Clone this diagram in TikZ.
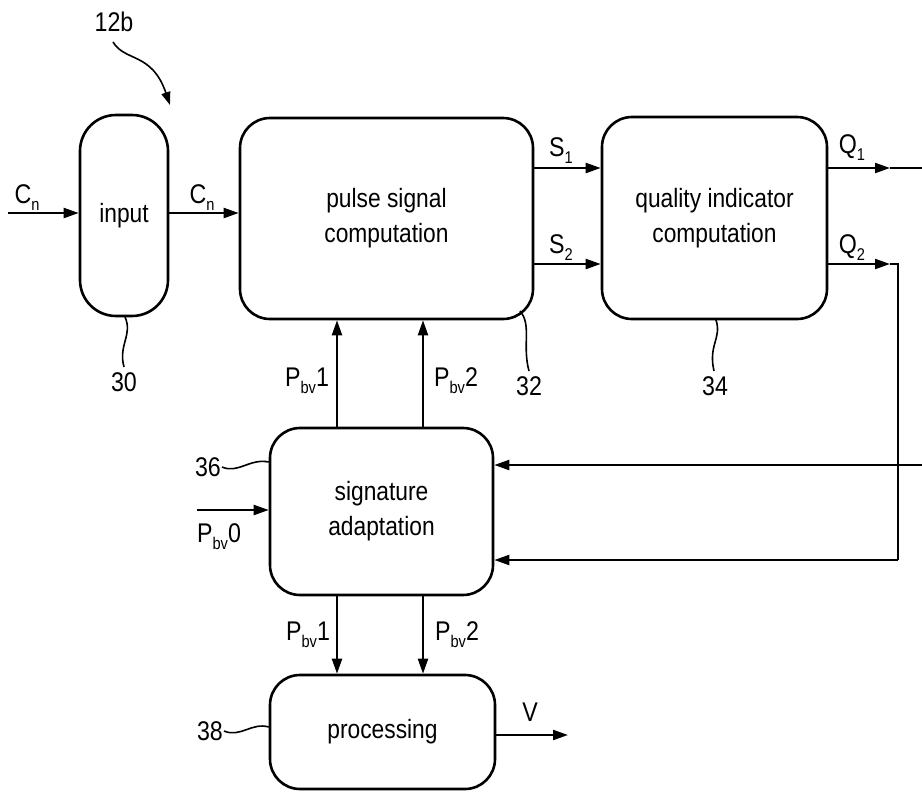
\documentclass[tikz,border=0pt]{standalone}
\usepackage{fontspec}
\setmainfont{Liberation Sans}[FakeStretch=0.86]
\usetikzlibrary{arrows.meta}
\newcommand{\lowsub}[1]{\raisebox{-0.5ex}{\fontsize{17}{17}\selectfont #1}}
\begin{document}
\begin{tikzpicture}[x=1pt,y=-1pt,
  every node/.style={font=\fontsize{26.5}{35}\selectfont},
  blk/.style={draw, line width=2.6pt, rounded corners=30pt, inner sep=0pt, align=center},
  wire/.style={line width=2.2pt},
  arr/.style={wire, -{Triangle[length=15pt,width=10pt]}},
  lead/.style={line width=1.6pt},
  lbl/.style={inner sep=0pt, font=\fontsize{27}{32}\selectfont}]
\useasboundingbox (0,0) rectangle (922,793);
% blocks
\node[blk, minimum width=88pt, minimum height=201pt, rounded corners=36pt] (input) at (124,215.5) {input};
\node[blk, minimum width=293pt, minimum height=201pt] (pulse) at (386.5,218.5) {pulse signal\\computation};
\node[blk, minimum width=225pt, minimum height=202pt] (qual) at (714.5,218) {quality indicator\\computation};
\node[blk, minimum width=223pt, minimum height=167pt] (sig) at (381.5,511.5) {signature\\adaptation};
\node[blk, minimum width=225pt, minimum height=114pt] (proc) at (382.5,732) {processing};
% free ends
\coordinate (cin) at (8,213);
\coordinate (p0) at (197,510);
\coordinate (q1a) at (890,168);
\coordinate (q1e) at (922,168);
\coordinate (q2a) at (890,264);
\coordinate (q2c) at (898,264);
\coordinate (q2d) at (898,560);
\coordinate (fbin) at (922,465);
\coordinate (vout) at (568,735);
% connectors
\draw[arr] (cin) -- (cin -| input.west);
\draw[arr] (input.east |- cin) -- (pulse.west |- cin);
\draw[arr] (pulse.east |- q1a) -- (qual.west |- q1a);
\draw[arr] (pulse.east |- q2a) -- (qual.west |- q2a);
\draw[arr] (qual.east |- q1a) -- (q1a);
\draw[wire] (q1a) -- (q1e);
\draw[arr] (qual.east |- q2a) -- (q2a);
\draw[wire] (q2a) -- (q2c) -- (q2d);
\draw[arr] (q2d) -- (sig.east |- q2d);
\draw[arr] (fbin) -- (sig.east |- fbin);
\draw[arr] (sig.north -| 337,0) -- (pulse.south -| 337,0);
\draw[arr] (sig.north -| 423,0) -- (pulse.south -| 423,0);
\draw[arr] (sig.south -| 337,0) -- (proc.north -| 337,0);
\draw[arr] (sig.south -| 423,0) -- (proc.north -| 423,0);
\draw[arr] (p0) -- (sig.west |- p0);
\draw[arr] (proc.east |- vout) -- (vout);
% labels
\node[lbl] (lcn1) at (27,198) {C\lowsub{n}};
\node[lbl] (lcn2) at (202,198) {C\lowsub{n}};
\node[lbl] (ls1) at (561,151) {S\lowsub{1}};
\node[lbl] (ls2) at (561,248) {S\lowsub{2}};
\node[lbl] (lq1) at (852,148) {Q\lowsub{1}};
\node[lbl] (lq2) at (852,248) {Q\lowsub{2}};
\node[lbl] (lpa) at (307,381) {P\lowsub{bv}1};
\node[lbl] (lpb) at (456,381) {P\lowsub{bv}2};
\node[lbl] (lpc) at (308,635) {P\lowsub{bv}1};
\node[lbl] (lpd) at (457,635) {P\lowsub{bv}2};
\node[lbl] (lp0) at (219,537) {P\lowsub{bv}0};
\node[lbl] (lv) at (530,712) {V};
% reference numerals
\node[lbl] (n12) at (114,22) {12b};
\node[lbl] (n30) at (124,382) {30};
\node[lbl] (n32) at (529,386) {32};
\node[lbl] (n34) at (715,386) {34};
\node[lbl] (n36) at (208,467) {36};
\node[lbl] (n38) at (210,731) {38};
% leaders
\draw[lead, -{Triangle[length=13pt,width=9pt]}] (113,42) .. controls (125,62) and (152,52) .. (170,105);
\draw[lead] (125,317) .. controls (133,335) and (118,345) .. (124,367);
\draw[lead] (520,311) .. controls (532,325) and (522,345) .. (529,371);
\draw[lead] (716,320) .. controls (722,338) and (708,345) .. (714,371);
\draw[lead] (222,467) .. controls (238,474) and (250,458) .. (sig.west |- 0,462);
\draw[lead] (224,731) .. controls (240,738) and (252,722) .. (proc.west |- 0,727);
\end{tikzpicture}
\end{document}
